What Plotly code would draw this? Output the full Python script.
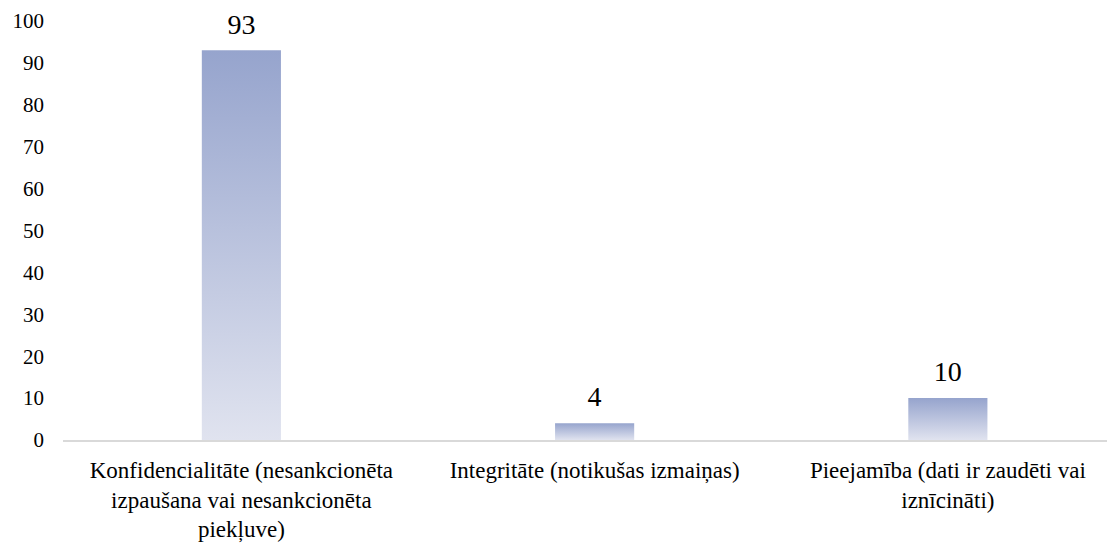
import plotly.graph_objects as go

categories = [
    "Konfidencialitāte (nesankcionēta<br>izpaušana vai nesankcionēta<br>piekļuve)",
    "Integritāte (notikušas izmaiņas)",
    "Pieejamība (dati ir zaudēti vai<br>iznīcināti)",
]
values = [93, 4, 10]
y_ticks = [0, 10, 20, 30, 40, 50, 60, 70, 80, 90, 100]

BAR_HALF = 0.112
FONT = "Liberation Serif"

fig = go.Figure()

# bars drawn as filled polygons so they can carry a vertical gradient
for i, v in enumerate(values):
    fig.add_trace(
        go.Scatter(
            x=[i - BAR_HALF, i + BAR_HALF, i + BAR_HALF, i - BAR_HALF, i - BAR_HALF],
            y=[0, 0, v, v, 0],
            mode="lines",
            line={"width": 0},
            fill="toself",
            fillgradient={
                "type": "vertical",
                "colorscale": [[0, "#e0e3ef"], [1, "#96a4cd"]],
            },
            hoverinfo="skip",
            showlegend=False,
        )
    )

# data labels (invisible marker pushes the text up off the bar)
fig.add_trace(
    go.Scatter(
        x=list(range(len(values))),
        y=values,
        mode="markers+text",
        marker={"size": 14, "opacity": 0},
        text=[str(v) for v in values],
        textposition="top center",
        textfont={"family": FONT, "size": 28, "color": "#000000"},
        cliponaxis=False,
        hoverinfo="skip",
        showlegend=False,
    )
)

fig.update_layout(
    width=1107,
    height=535,
    paper_bgcolor="white",
    plot_bgcolor="white",
    margin={"l": 55, "r": 5, "t": 13, "b": 103},
    font={"family": FONT, "size": 21, "color": "#000000"},
    showlegend=False,
)
fig.update_xaxes(
    range=[-0.505, 2.459],
    tickvals=list(range(len(categories))),
    ticktext=categories,
    showgrid=False,
    zeroline=False,
    showline=True,
    linecolor="#d9d9d9",
    linewidth=2,
    ticks="",
    tickfont={"family": FONT, "size": 23},
    tickangle=0,
    ticklabelstandoff=8,
    automargin=False,
)
fig.update_yaxes(
    range=[0, 100],
    tickvals=y_ticks,
    showgrid=False,
    zeroline=False,
    showline=False,
    ticks="",
    tickfont={"family": FONT, "size": 21},
    ticklabelstandoff=18,
    automargin=False,
)

fig.write_html("out.html")
